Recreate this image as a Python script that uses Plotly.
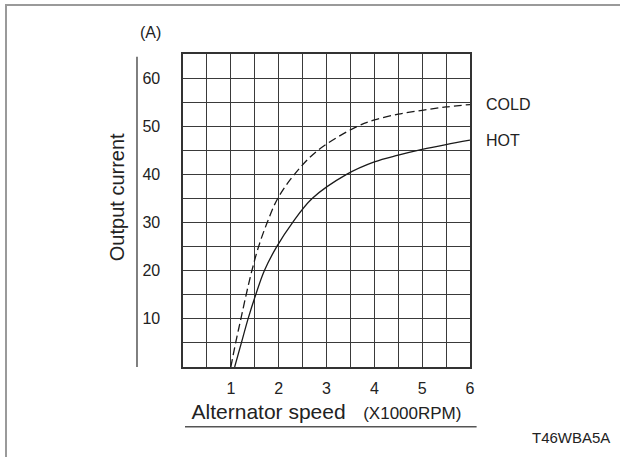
import plotly.graph_objects as go

# Data
speed_cold = [1.0, 1.10, 1.21, 1.32, 1.44, 1.58, 1.76, 1.98, 2.33, 2.82, 3.65, 4.0, 4.5, 5.0, 5.5, 6.0]
current_cold = [0, 5, 10, 15, 20, 25, 30, 35, 40, 45, 50, 51.3, 52.5, 53.3, 54.0, 54.5]

speed_hot = [1.08, 1.22, 1.36, 1.52, 1.70, 1.96, 2.29, 2.70, 3.42, 4.0, 4.5, 5.0, 5.5, 6.0]
current_hot = [0, 5, 10, 15, 20, 25, 30, 35, 40, 42.6, 44.0, 45.2, 46.2, 47.1]

x_ticks = [1, 2, 3, 4, 5, 6]
y_ticks = [10, 20, 30, 40, 50, 60]
series_names = ["COLD", "HOT"]

FONT = "Liberation Sans, Arial, Helvetica, sans-serif"
INK = "#222222"

fig = go.Figure()
fig.add_trace(go.Scatter(
    x=speed_cold, y=current_cold, mode="lines", name=series_names[0],
    line=dict(color="#1a1a1a", width=1.3, dash="8px,4px", shape="spline", smoothing=1.0),
    showlegend=False, hoverinfo="skip"))
fig.add_trace(go.Scatter(
    x=speed_hot, y=current_hot, mode="lines", name=series_names[1],
    line=dict(color="#1a1a1a", width=1.3, shape="spline", smoothing=1.0),
    showlegend=False, hoverinfo="skip"))

fig.update_layout(
    width=620, height=457, autosize=False,
    margin=dict(l=183, r=150, t=54, b=90, pad=0),
    paper_bgcolor="white", plot_bgcolor="white",
    font=dict(family=FONT, color=INK, size=16),
    xaxis=dict(
        range=[0, 6], tickmode="array", tickvals=x_ticks,
        ticktext=[str(v) for v in x_ticks],
        showgrid=True, gridcolor="#3a3a3a", gridwidth=1.1,
        minor=dict(dtick=0.5, tick0=0, showgrid=True, gridcolor="#3a3a3a", gridwidth=1.1),
        ticks="", ticklabelstandoff=6,
        showline=True, linecolor="#333333", linewidth=1.6, mirror=True,
        zeroline=False, tickfont=dict(size=16, color=INK),
        title=dict(
            text="Alternator speed\u00a0\u00a0\u00a0<span style='font-size:17px'>(X1000RPM)</span>",
            font=dict(size=21, color=INK), standoff=8),
        automargin=False, fixedrange=True,
    ),
    yaxis=dict(
        range=[0, 65], tickmode="array", tickvals=y_ticks,
        ticktext=[str(v) for v in y_ticks],
        showgrid=True, gridcolor="#3a3a3a", gridwidth=1.1,
        minor=dict(dtick=5, tick0=0, showgrid=True, gridcolor="#3a3a3a", gridwidth=1.1),
        ticks="", ticklabelstandoff=18,
        showline=True, linecolor="#333333", linewidth=1.6, mirror=True,
        zeroline=False, tickfont=dict(size=16, color=INK),
        automargin=False, fixedrange=True,
    ),
    shapes=[
        # outer frame of the figure
        dict(type="rect", xref="paper", yref="paper",
             x0=-0.6167, x1=1.56, y0=-0.32, y1=1.1565,
             line=dict(color="#9a9a9a", width=2), layer="below"),
        # vertical rule beside y tick labels
        dict(type="line", xref="paper", yref="paper",
             x0=-0.1603, x1=-0.1603, y0=0.0, y1=0.991,
             line=dict(color="#555555", width=1.5)),
        # underline beneath the x-axis title
        dict(type="line", xref="paper", yref="paper",
             x0=0.007, x1=1.023, y0=-0.1907, y1=-0.1907,
             line=dict(color="#555555", width=1.5)),
    ],
    annotations=[
        dict(text="Output current", xref="paper", yref="paper", x=-0.231, y=0.5415,
             xanchor="center", yanchor="middle", textangle=-90, showarrow=False,
             font=dict(size=20, color=INK)),
        dict(text="(A)", xref="paper", yref="paper", x=-0.1115, y=1.0687,
             xanchor="center", yanchor="middle", showarrow=False,
             font=dict(size=16, color=INK)),
        dict(text=series_names[0], xref="x", yref="y", x=speed_cold[-1], y=current_cold[-1],
             xanchor="left", yanchor="middle", xshift=14, showarrow=False,
             font=dict(size=16, color=INK)),
        dict(text=series_names[1], xref="x", yref="y", x=speed_hot[-1], y=current_hot[-1],
             xanchor="left", yanchor="middle", xshift=14, showarrow=False,
             font=dict(size=16, color=INK)),
        dict(text="T46WBA5A", xref="paper", yref="paper", x=1.4937, y=-0.2268,
             xanchor="right", yanchor="middle", showarrow=False,
             font=dict(size=15, color=INK)),
    ],
)

fig.write_html(
    "out.html",
    config={"displayModeBar": False, "staticPlot": True},
    post_script="document.body.style.margin='0';document.body.style.overflow='hidden';",
)
